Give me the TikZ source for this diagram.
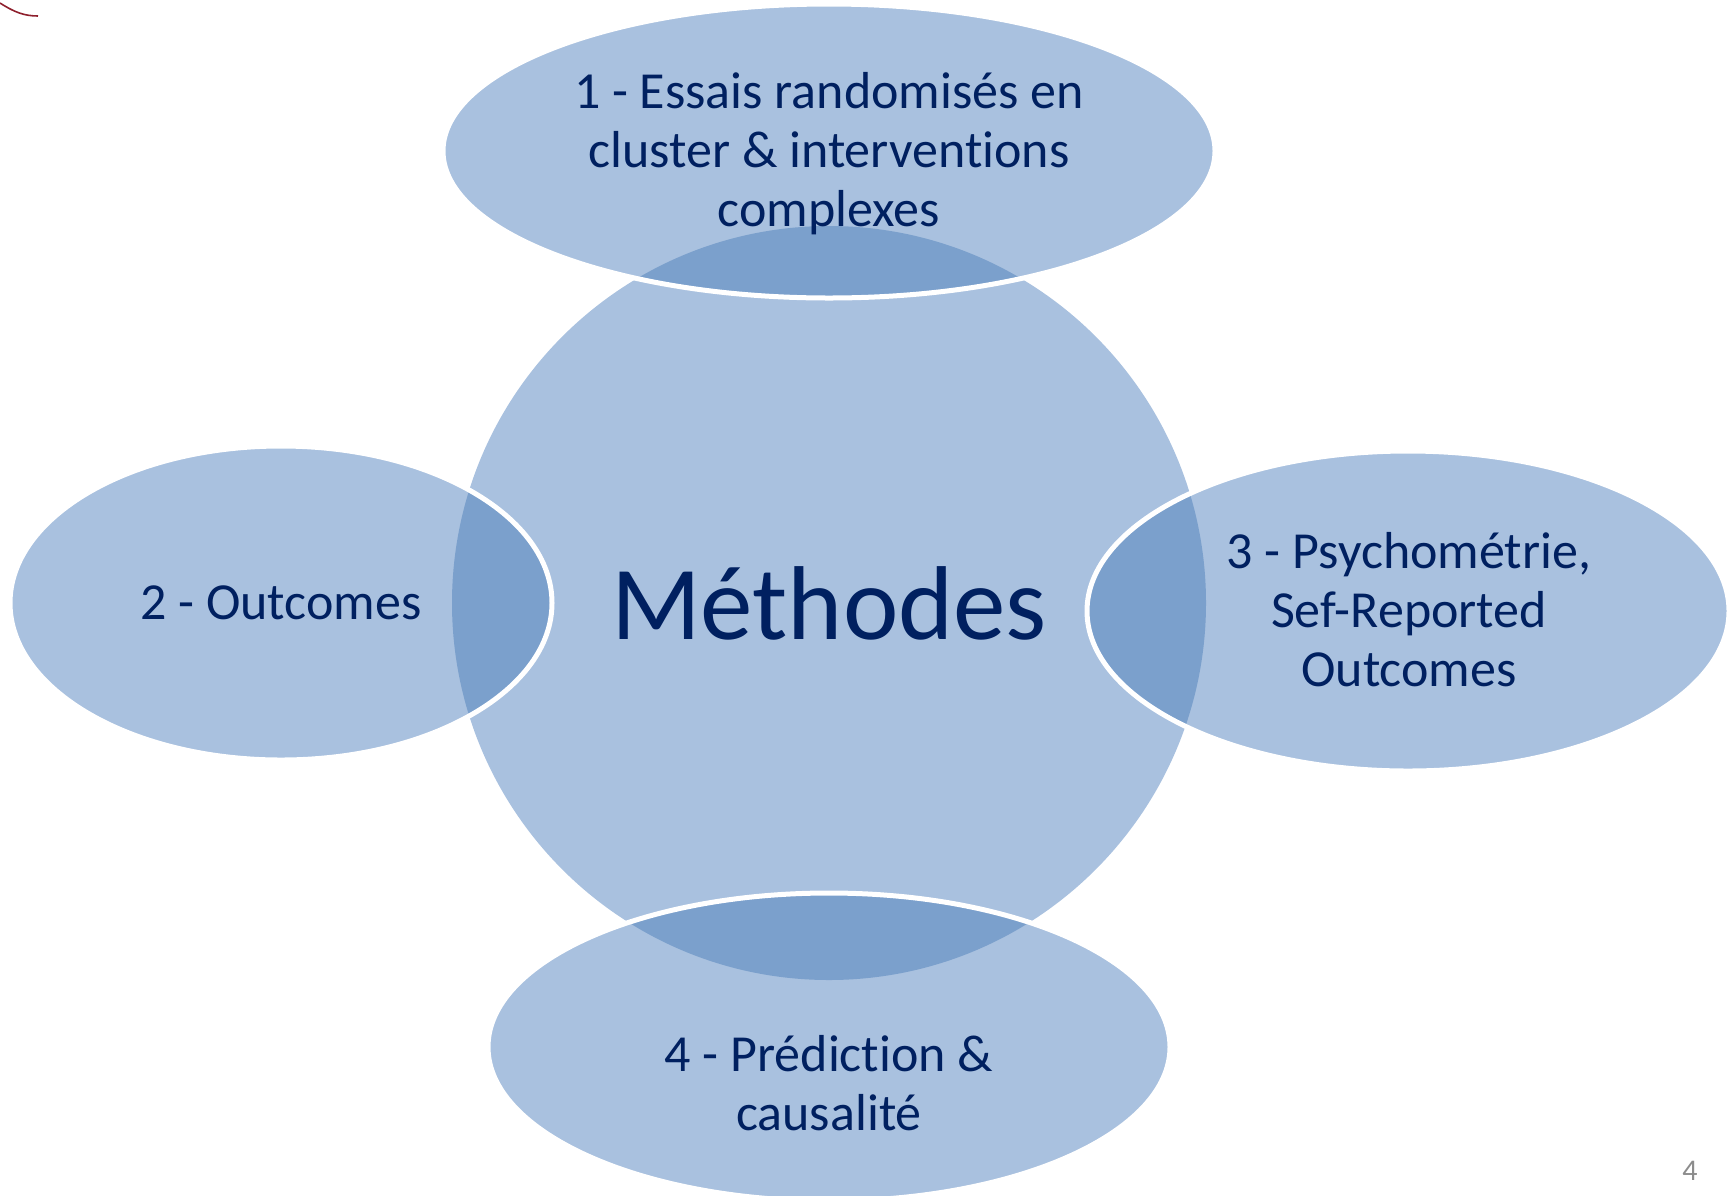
\documentclass[tikz,border=0pt]{standalone}
\usepackage{fontspec}
\setmainfont[Ligatures=NoCommon]{Carlito}
\definecolor{lightfill}{HTML}{A9C1DF}
\definecolor{darkfill}{HTML}{7BA0CC}
\definecolor{navy}{HTML}{002060}
\definecolor{pgnum}{HTML}{8C8C8C}
\definecolor{redline}{HTML}{8E1F2C}
\begin{document}
\begin{tikzpicture}[x=1pt,y=-1pt,
  lbl/.style={text=navy, align=center, font=\fontsize{52}{59}\selectfont, inner sep=0pt},
  border/.style={draw=white, line width=5pt}]
\useasboundingbox (0,0) rectangle (1736,1195);
% corner mark
\draw[redline, line width=1.6pt] (0,3) .. controls (14,12) and (24,16) .. (38,16);
% central circle
\fill[lightfill] (829,603) circle [radius=377pt];
% ellipses
\fill[lightfill] (829,151) ellipse [x radius=386pt, y radius=147pt];
\fill[lightfill] (281,603) ellipse [x radius=271pt, y radius=157pt];
\fill[lightfill] (1408,611) ellipse [x radius=321pt, y radius=160pt];
\fill[lightfill] (829,1047) ellipse [x radius=341pt, y radius=154pt];
% overlaps
\begin{scope}
  \clip (829,603) circle [radius=377pt];
  \fill[darkfill] (829,151) ellipse [x radius=386pt, y radius=147pt];
  \fill[darkfill] (281,603) ellipse [x radius=271pt, y radius=157pt];
  \fill[darkfill] (1408,611) ellipse [x radius=321pt, y radius=160pt];
  \fill[darkfill] (829,1047) ellipse [x radius=341pt, y radius=154pt];
\end{scope}
% white borders
\draw[border] (829,151) ellipse [x radius=386pt, y radius=147pt];
\draw[border] (281,603) ellipse [x radius=271pt, y radius=157pt];
\draw[border] (1408,611) ellipse [x radius=321pt, y radius=160pt];
\draw[border] (829,1047) ellipse [x radius=341pt, y radius=154pt];
% texts
\node[text=navy, font=\fontsize{105}{115}\selectfont, inner sep=0pt] (center) at (829,603) {Méthodes};
\node[lbl] (t1) at (829,154) {1 - Essais randomisés en\\cluster \& interventions\\complexes};
\node[lbl] (t2) at (281,603) {2 - Outcomes};
\node[lbl] (t3) at (1409,610) {3 - Psychométrie,\\Sef-Reported\\Outcomes};
\node[lbl] (t4) at (829,1083) {4 - Prédiction \&\\causalité};
\node[text=pgnum, font=\fontsize{30}{34}\selectfont, inner sep=0pt] (pg) at (1690,1171) {4};
\end{tikzpicture}
\end{document}
